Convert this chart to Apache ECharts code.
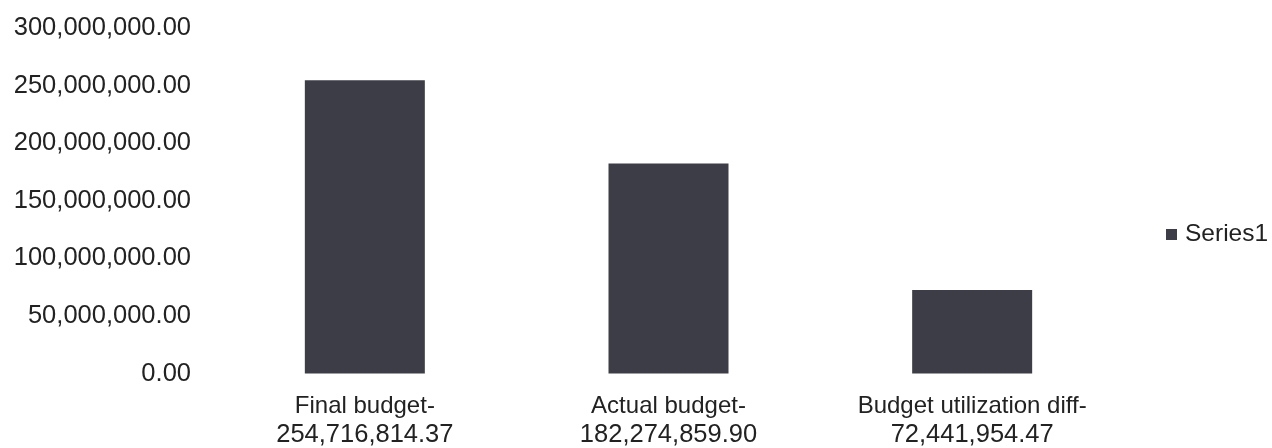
<!DOCTYPE html>
<html>
<head>
<meta charset="utf-8">
<script src="https://cdn.jsdelivr.net/npm/echarts@6/dist/echarts.min.js"></script>
<style>
html,body{margin:0;padding:0;background:#fff;}
#chart{width:1272px;height:448px;}
</style>
</head>
<body>
<div id="chart"></div>
<script>
const categoryNames = ["Final budget-", "Actual budget-", "Budget utilization diff-"];
const categoryAmounts = ["254,716,814.37", "182,274,859.90", "72,441,954.47"];
const seriesName = "Series1";
const values = [254716814.37, 182274859.90, 72441954.47];
const yTicks = { min: 0, max: 300000000, interval: 50000000 };

const categories = categoryNames.map((n, i) => n + "\n" + categoryAmounts[i]);

function fmt(v) {
  return Number(v).toLocaleString('en-US', { minimumFractionDigits: 2, maximumFractionDigits: 2 });
}

const chart = echarts.init(document.getElementById('chart'), null, { renderer: 'canvas' });
const font = "'Liberation Sans', Arial, sans-serif";
chart.setOption({
  animation: false,
  backgroundColor: '#ffffff',
  textStyle: { fontFamily: font },
  grid: { left: 213, right: 148, top: 28, bottom: 71, containLabel: false },
  legend: {
    data: [seriesName],
    left: 1161,
    top: 217,
    icon: 'rect',
    itemWidth: 11,
    itemHeight: 11,
    textStyle: { fontFamily: font, fontSize: 24.5, color: '#222', padding: [0, 0, 0, 3] }
  },
  xAxis: {
    type: 'category',
    data: categories,
    axisLine: { show: false },
    axisTick: { show: false },
    axisLabel: {
      interval: 0,
      margin: 18,
      fontFamily: font,
      color: '#222',
      formatter: function (v) {
        const parts = v.split("\n");
        return "{a|" + parts[0] + "}\n{b|" + parts[1] + "}";
      },
      rich: {
        a: { fontFamily: font, fontSize: 24, lineHeight: 29, color: '#222' },
        b: { fontFamily: font, fontSize: 25.5, lineHeight: 29, color: '#222' }
      }
    }
  },
  yAxis: {
    type: 'value',
    min: yTicks.min,
    max: yTicks.max,
    interval: yTicks.interval,
    axisLine: { show: false },
    axisTick: { show: false },
    splitLine: { show: false },
    axisLabel: {
      margin: 22,
      fontFamily: font,
      fontSize: 25.5,
      color: '#222',
      formatter: fmt
    }
  },
  series: [{
    name: seriesName,
    type: 'bar',
    data: values,
    barWidth: 120,
    itemStyle: { color: '#3c3d47' }
  }]
});
</script>
</body>
</html>
